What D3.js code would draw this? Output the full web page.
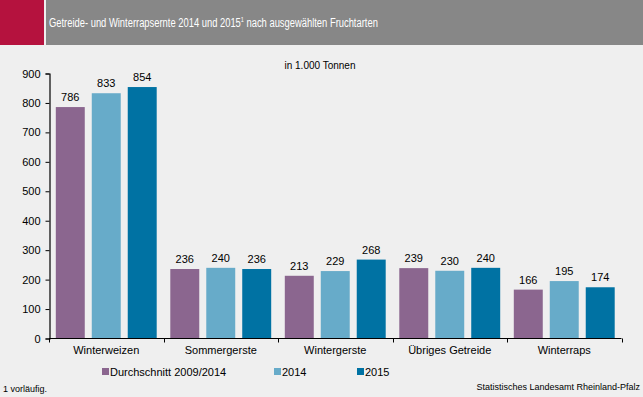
<!DOCTYPE html>
<html>
<head>
<meta charset="utf-8">
<script src="https://cdn.jsdelivr.net/npm/d3@7"></script>
<style>
  body { margin: 0; background: #efefef; }
  svg { display: block; font-family: "Liberation Sans", Arial, sans-serif; }
</style>
</head>
<body>
<div id="chart"></div>
<script>
const categories = ["Winterweizen", "Sommergerste", "Wintergerste", "Übriges Getreide", "Winterraps"];
const seriesNames = ["Durchschnitt 2009/2014", "2014", "2015"];
const avg0914 = [786, 236, 213, 239, 166];
const y2014 = [833, 240, 229, 230, 195];
const y2015 = [854, 236, 268, 240, 174];
const yTicks = [0, 100, 200, 300, 400, 500, 600, 700, 800, 900];
const colors = ["#8b668f", "#67abc9", "#0072a3"];

const W = 643, H = 397;
const svg = d3.select("#chart").append("svg")
    .attr("width", W).attr("height", H);

svg.append("rect").attr("width", W).attr("height", H).attr("fill", "#efefef");

// header
svg.append("rect").attr("x", 0).attr("y", 0).attr("width", 44).attr("height", 45).attr("fill", "#b5123e");
svg.append("rect").attr("x", 46).attr("y", 0).attr("width", W - 46).attr("height", 45).attr("fill", "#878787");
const titleG = svg.append("g");
const title = titleG.append("text")
    .attr("x", 0).attr("y", 0)
    .attr("fill", "#fff")
    .style("font-size", "12px");
title.append("tspan").text("Getreide- und Winterrapsernte 2014 und 2015");
title.append("tspan").attr("dy", -5).style("font-size", "7px").text("1");
title.append("tspan").attr("dy", 5).text(" nach ausgewählten Fruchtarten");
// squeeze title to the narrow width of the original
const tw = title.node().getComputedTextLength ? title.node().getBBox().width : 380;
titleG.attr("transform", "translate(49,27) scale(" + (329 / tw) + ",1)");

svg.append("text").attr("x", 320).attr("y", 69)
    .attr("text-anchor", "middle").style("font-size", "10px").attr("fill", "#000")
    .text("in 1.000 Tonnen");

const x0 = d3.scaleBand().domain(categories).range([49, 621.5]).paddingInner(0).paddingOuter(0);
const x1 = d3.scaleBand().domain(seriesNames).range([6.8, x0.bandwidth() - 6.8]).paddingInner(0.195).paddingOuter(0);
const y = d3.scaleLinear().domain([0, 900]).range([338.5, 73.5]);

const rows = categories.map((c, i) => ({
    cat: c,
    vals: [avg0914[i], y2014[i], y2015[i]].map((v, j) => ({ key: seriesNames[j], v: v, j: j }))
}));

const groups = svg.selectAll("g.cat").data(rows).enter().append("g")
    .attr("class", "cat")
    .attr("transform", d => "translate(" + x0(d.cat) + ",0)");

groups.selectAll("rect").data(d => d.vals).enter().append("rect")
    .attr("x", d => x1(d.key))
    .attr("width", x1.bandwidth())
    .attr("y", d => y(d.v))
    .attr("height", d => y(0) - y(d.v))
    .attr("fill", d => colors[d.j]);

groups.selectAll("text.val").data(d => d.vals).enter().append("text")
    .attr("class", "val")
    .attr("x", d => x1(d.key) + x1.bandwidth() / 2)
    .attr("y", d => y(d.v) - 6)
    .attr("text-anchor", "middle")
    .style("font-size", "11px")
    .text(d => d.v);

// y axis
const yAxis = svg.append("g").attr("transform", "translate(49.5,0)")
    .call(d3.axisLeft(y).tickValues(yTicks).tickSize(4).tickPadding(5));
yAxis.select(".domain").attr("stroke", "#000").attr("stroke-width", 1.2);
yAxis.selectAll("text").style("font-size", "11px").attr("fill", "#000")
    .style("font-family", "'Liberation Sans', Arial, sans-serif");

// x axis
const xAxis = svg.append("g").attr("transform", "translate(0," + 338.5 + ")");
xAxis.append("line").attr("x1", 49).attr("x2", 621.5).attr("stroke", "#000").attr("stroke-width", 1.2);
const boundaries = categories.map(c => x0(c)).concat([x0.range()[1]]);
xAxis.selectAll("line.tk").data(boundaries).enter().append("line")
    .attr("class", "tk")
    .attr("x1", d => Math.round(d) + 0.5).attr("x2", d => Math.round(d) + 0.5)
    .attr("y1", 0).attr("y2", 4).attr("stroke", "#000");
xAxis.selectAll("text").data(categories).enter().append("text")
    .attr("x", d => x0(d) + x0.bandwidth() / 2)
    .attr("y", 15)
    .attr("text-anchor", "middle")
    .style("font-size", "11px")
    .text(d => d);

// legend
const legendX = [102, 274, 357];
const legend = svg.selectAll("g.leg").data(seriesNames).enter().append("g")
    .attr("class", "leg")
    .attr("transform", (d, i) => "translate(" + legendX[i] + ",376)");
legend.append("rect").attr("x", 0).attr("y", -8).attr("width", 7).attr("height", 7)
    .attr("fill", (d, i) => colors[i]);
legend.append("text").attr("x", 8).attr("y", 0)
    .style("font-size", "11px").text(d => d);

// footer
svg.append("text").attr("x", 3).attr("y", 392).style("font-size", "9px").text("1 vorläufig.");
svg.append("text").attr("x", 640).attr("y", 390).attr("text-anchor", "end")
    .style("font-size", "9px").text("Statistisches Landesamt Rheinland-Pfalz");
</script>
</body>
</html>
